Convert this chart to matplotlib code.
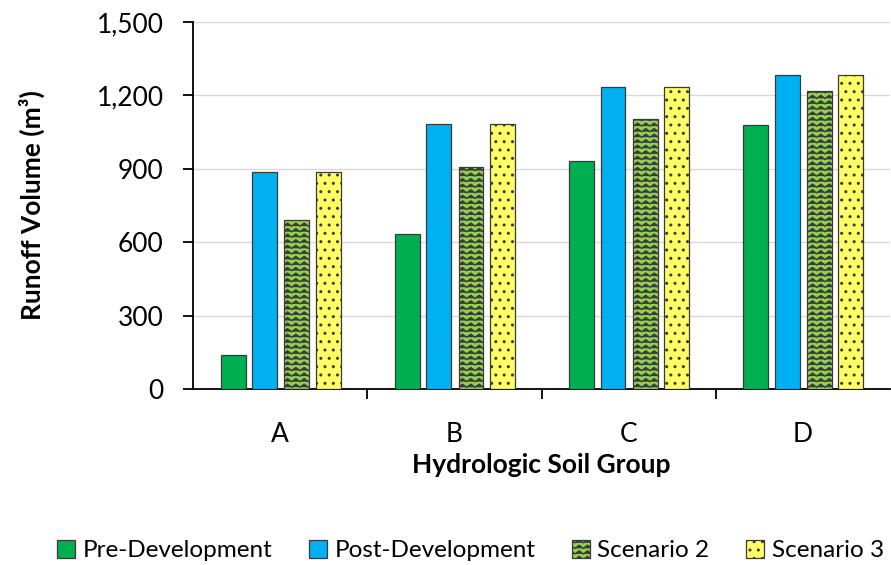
import matplotlib
matplotlib.use("Agg")
import matplotlib.pyplot as plt
import matplotlib.hatch as mhatch
from matplotlib.path import Path
import numpy as np


class ZigzagHatch(mhatch.HatchPatternBase):
    """Rows of small chevrons, drawn for the '*' hatch character."""

    def __init__(self, hatch, density):
        self.num_rows = int(hatch.count("*") * density * 3)
        self.num_teeth = 12
        self.amp = 0.03
        self.num_vertices = self.num_rows * (2 * self.num_teeth + 1)

    def set_vertices_and_codes(self, vertices, codes):
        n = 2 * self.num_teeth + 1
        xs = np.linspace(0.0, 1.0, n)
        bump = self.amp * (np.arange(n) % 2)
        for i in range(self.num_rows):
            y0 = (i + 0.3) / self.num_rows
            sl = slice(i * n, (i + 1) * n)
            vertices[sl, 0] = xs
            vertices[sl, 1] = y0 + bump
            codes[sl] = Path.LINETO
            codes[i * n] = Path.MOVETO


mhatch._hatch_types[mhatch._hatch_types.index(mhatch.Stars)] = ZigzagHatch

plt.rcParams["font.family"] = ["Lato", "DejaVu Sans"]
plt.rcParams["hatch.linewidth"] = 1.0
plt.rcParams["hatch.color"] = "black"

groups = ["A", "B", "C", "D"]
series = ["Pre-Development", "Post-Development", "Scenario 2", "Scenario 3"]
pre_dev = [139, 633, 930, 1079]
post_dev = [887, 1083, 1233, 1282]
scenario_2 = [690, 907, 1103, 1217]
scenario_3 = [887, 1083, 1233, 1282]

values = [pre_dev, post_dev, scenario_2, scenario_3]
colors = ["#00B050", "#00B0F0", "#92D050", "#FFFF66"]
hatches = [None, None, "*", ".."]
offsets = [-0.27, -0.09, 0.095, 0.275]

fig = plt.figure(figsize=(8.91, 5.65), dpi=100)
ax = fig.add_axes([0.2166, 0.3115, 0.7824, 0.6495])

x = np.arange(len(groups))
for vals, name, col, hat, off in zip(values, series, colors, hatches, offsets):
    ax.bar(x + off, vals, width=0.143, color=col, edgecolor="#3a3a3a",
           linewidth=0.9, hatch=hat, label=name, zorder=3)

ax.set_xlim(-0.5, 3.5)
ax.set_ylim(0, 1500)
ax.set_yticks(np.arange(0, 1501, 300))
ax.set_yticklabels([f"{v:,}" for v in range(0, 1501, 300)])
ax.set_xticks(x)
ax.set_xticklabels(groups)
ax.set_xticks([0.5, 1.5, 2.5], minor=True)

ax.grid(axis="y", color="#D9D9D9", linewidth=1.0, zorder=0)
ax.set_axisbelow(True)
for side in ("top", "right"):
    ax.spines[side].set_visible(False)
for side in ("left", "bottom"):
    ax.spines[side].set_color("black")
    ax.spines[side].set_linewidth(1.3)

ax.tick_params(axis="y", direction="out", length=7, width=1.3,
               labelsize=19, pad=14)
ax.tick_params(axis="x", which="major", length=0, labelsize=19, pad=24)
ax.tick_params(axis="x", which="minor", direction="out", length=7, width=1.3)

ax.set_ylabel("Runoff Volume (m³)", fontsize=19, fontweight="bold", labelpad=37)
ax.set_xlabel("Hydrologic Soil Group", fontsize=19, fontweight="bold", labelpad=4)

fig.legend(loc="lower center", bbox_to_anchor=(0.528, -0.032), ncol=4,
           frameon=False, fontsize=17.5, handlelength=0.75, handleheight=0.75,
           handletextpad=0.3, columnspacing=1.5)

fig.savefig("out.png", dpi=100)
